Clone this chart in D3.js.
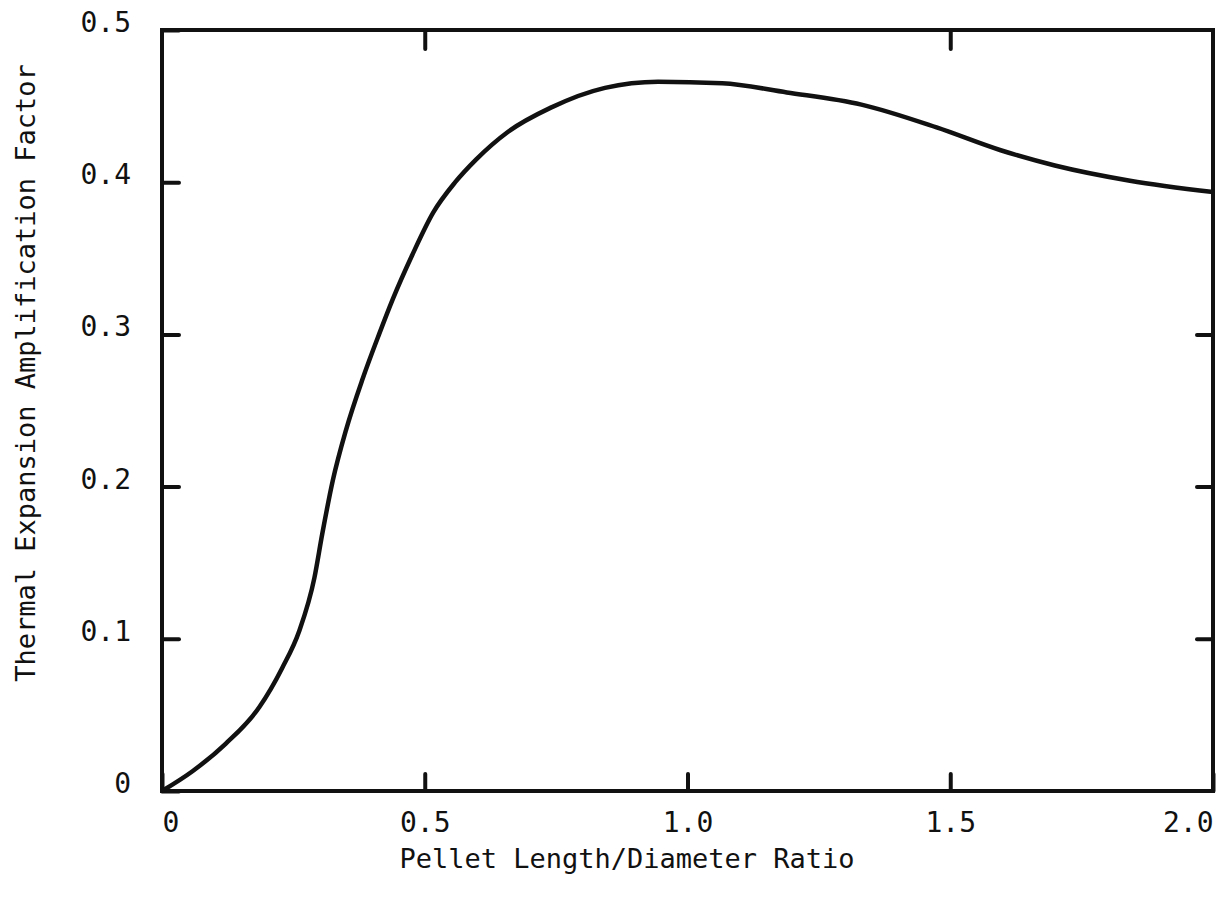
<!DOCTYPE html>
<html>
<head>
<meta charset="utf-8">
<script src="https://cdn.jsdelivr.net/npm/d3@7"></script>
<style>
  body { margin: 0; background: #fff; }
  svg text { font-family: "DejaVu Sans Mono", "Liberation Mono", monospace; fill: #111; }
</style>
</head>
<body>
<svg id="chart"></svg>
<script>
// curve
const ratio = [0, 0.058, 0.121, 0.185, 0.229, 0.261, 0.290, 0.305, 0.325, 0.350, 0.382, 0.413,
  0.439, 0.476, 0.516, 0.558, 0.598, 0.658, 0.740, 0.843, 0.944, 1.066, 1.189, 1.331, 1.474, 1.596, 1.699, 1.842, 2.0];
const factor = [0, 0.013, 0.031, 0.055, 0.081, 0.105, 0.140, 0.169, 0.204, 0.237, 0.271, 0.300,
  0.323, 0.352, 0.380, 0.400, 0.415, 0.433, 0.449, 0.462, 0.466, 0.465, 0.459, 0.451, 0.436, 0.421, 0.411, 0.401, 0.3935];

const xTicks = [0, 0.5, 1.0, 1.5, 2.0];
const yTicks = [0, 0.1, 0.2, 0.3, 0.4, 0.5];
const topTicks = [0.5, 1.5];
const rightTicks = [0.1, 0.2, 0.3];

const xLabel = "Pellet Length/Diameter Ratio";
const yLabel = "Thermal Expansion Amplification Factor";

var margin = { top: 30, bottom: 111, left: 162, right: 12 };
var width = 1225 - margin.left - margin.right,
    height = 902 - margin.top - margin.bottom;

var svg = d3.select("#chart")
    .attr("width", 1225)
    .attr("height", 902)
    .append("g")
    .attr("transform", "translate(" + margin.left + "," + margin.top + ")");

var x = d3.scaleLinear().domain([0, 2]).range([0, width]);
var y = d3.scaleLinear().domain([0, 0.5]).range([height, 0]);

var tickFont = 28, titleFont = 27;

// bottom axis, ticks point inward
var xAxis = svg.append("g")
    .attr("transform", `translate(0, ${height})`)
    .call(d3.axisBottom(x)
        .tickValues(xTicks)
        .tickSizeInner(-17)
        .tickSizeOuter(0)
        .tickPadding(21)
        .tickFormat(d => d === 0 ? "0" : d3.format(".1f")(d)));
xAxis.selectAll("text")
    .style("font-size", tickFont + "px")
    .attr("text-anchor", d => d === 0 ? "start" : d === 2 ? "end" : "middle");

var yAxis = svg.append("g")
    .call(d3.axisLeft(y)
        .tickValues(yTicks)
        .tickSizeInner(-17)
        .tickSizeOuter(0)
        .tickPadding(31)
        .tickFormat(d => d === 0 ? "0" : d3.format(".1f")(d)));
yAxis.selectAll("text")
    .style("font-size", tickFont + "px")
    .attr("dy", "0.05em");

svg.append("g")
    .call(d3.axisTop(x).tickValues(topTicks).tickSizeInner(-19).tickSizeOuter(0).tickFormat(""));

svg.append("g")
    .attr("transform", `translate(${width}, 0)`)
    .call(d3.axisRight(y).tickValues(rightTicks).tickSizeInner(-16).tickSizeOuter(0).tickFormat(""));

svg.selectAll(".domain").remove();
svg.selectAll(".tick line")
    .attr("stroke", "#111")
    .attr("stroke-width", 4)
    .attr("stroke-linecap", "round");

// frame
svg.append("rect")
    .attr("x", 0)
    .attr("y", 0)
    .attr("width", width)
    .attr("height", height)
    .attr("fill", "none")
    .attr("stroke", "#111")
    .attr("stroke-width", 4);

var points = ratio.map((r, i) => [r, factor[i]]);

var line = d3.line()
    .x(d => x(d[0]))
    .y(d => y(d[1]))
    .curve(d3.curveMonotoneX);

svg.append("path")
    .datum(points)
    .attr("d", line)
    .attr("fill", "none")
    .attr("stroke", "#111")
    .attr("stroke-width", 4.5)
    .attr("stroke-linejoin", "round");

svg.append("text")
    .attr("x", 627 - margin.left)
    .attr("y", 868 - margin.top)
    .attr("text-anchor", "middle")
    .style("font-size", titleFont + "px")
    .text(xLabel);

svg.append("text")
    .attr("transform", "rotate(-90)")
    .attr("x", -(373 - margin.top))
    .attr("y", 35 - margin.left)
    .attr("text-anchor", "middle")
    .style("font-size", titleFont + "px")
    .text(yLabel);
</script>
</body>
</html>
